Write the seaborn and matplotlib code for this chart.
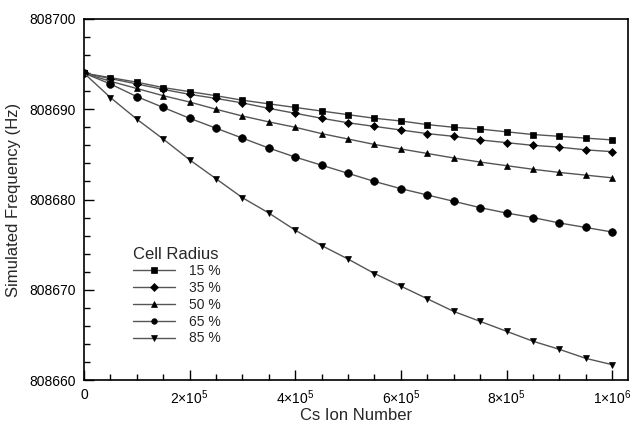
import numpy as np
import pandas as pd
import matplotlib
matplotlib.use("Agg")
import matplotlib.pyplot as plt
import seaborn as sns
from matplotlib.ticker import MultipleLocator, FixedLocator

# Cs ion number, every 5x10^4 from 0 to 1x10^6
ion_number = [i * 50000 for i in range(21)]

# simulated frequency (Hz), one list per cell radius
freq_15 = [808694.0, 808693.5, 808693.0, 808692.4, 808691.95, 808691.5, 808691.0,
           808690.6, 808690.2, 808689.8, 808689.4, 808689.0, 808688.7, 808688.3,
           808688.0, 808687.8, 808687.5, 808687.2, 808687.0, 808686.8, 808686.6]
freq_35 = [808694.0, 808693.4, 808692.8, 808692.2, 808691.65, 808691.2, 808690.7,
           808690.1, 808689.55, 808689.0, 808688.5, 808688.1, 808687.7, 808687.3,
           808687.0, 808686.6, 808686.3, 808686.0, 808685.8, 808685.5, 808685.3]
freq_50 = [808694.0, 808693.1, 808692.3, 808691.5, 808690.8, 808690.0, 808689.25,
           808688.6, 808688.0, 808687.3, 808686.7, 808686.1, 808685.6, 808685.1,
           808684.6, 808684.15, 808683.75, 808683.35, 808683.0, 808682.7, 808682.4]
freq_65 = [808694.0, 808692.8, 808691.4, 808690.2, 808689.0, 808687.9, 808686.8,
           808685.7, 808684.7, 808683.8, 808682.9, 808682.0, 808681.2, 808680.5,
           808679.8, 808679.1, 808678.5, 808678.0, 808677.4, 808676.9, 808676.4]
freq_85 = [808694.0, 808691.3, 808688.9, 808686.7, 808684.4, 808682.3, 808680.2,
           808678.5, 808676.6, 808674.9, 808673.4, 808671.8, 808670.4, 808669.0,
           808667.6, 808666.5, 808665.4, 808664.3, 808663.4, 808662.4, 808661.7]

radius_labels = ["15 %", "35 %", "50 %", "65 %", "85 %"]
series = [freq_15, freq_35, freq_50, freq_65, freq_85]

x_ticks = [0, 200000, 400000, 600000, 800000, 1000000]
x_tick_labels = ["0", r"$\mathregular{2{\times}10^5}$", r"$\mathregular{4{\times}10^5}$",
                 r"$\mathregular{6{\times}10^5}$", r"$\mathregular{8{\times}10^5}$",
                 r"$\mathregular{1{\times}10^6}$"]
y_ticks = [808660, 808670, 808680, 808690, 808700]

df = pd.concat([pd.DataFrame({"ions": ion_number, "freq": s, "radius": r})
                for s, r in zip(series, radius_labels)], ignore_index=True)

sns.set_style("ticks")
plt.rcParams["font.family"] = ["Liberation Sans", "DejaVu Sans"]
plt.rcParams["mathtext.fontset"] = "custom"
plt.rcParams["mathtext.rm"] = "Liberation Sans"

fig = plt.figure(figsize=(6.3, 4.22), dpi=100)
ax = fig.add_axes([0.1333, 0.0995, 0.8635, 0.8555])

markers = {"15 %": "s", "35 %": "D", "50 %": "^", "65 %": "o", "85 %": "v"}
sizes = {"15 %": 5, "35 %": 3.8, "50 %": 5, "65 %": 5.5, "85 %": 5}
palette = {r: "#555555" for r in radius_labels}

sns.lineplot(data=df, x="ions", y="freq", hue="radius", style="radius",
             markers=markers, dashes=False, palette=palette, legend=False,
             linewidth=1.0, markersize=5, markerfacecolor="black",
             markeredgecolor="black", markeredgewidth=0.5, ax=ax)
for line, r in zip(ax.lines, radius_labels):
    line.set_markersize(sizes[r])

ax.set_xlim(0, 1030000)
ax.set_ylim(808660, 808700)
ax.xaxis.set_major_locator(FixedLocator(x_ticks))
ax.set_xticklabels(x_tick_labels)
ax.xaxis.set_minor_locator(MultipleLocator(50000))
ax.yaxis.set_major_locator(FixedLocator(y_ticks))
ax.set_yticklabels([str(v) for v in y_ticks])
ax.yaxis.set_minor_locator(MultipleLocator(2))

ax.tick_params(which="both", direction="in", top=False, right=False,
               labelsize=10, colors="black", width=1.0)
ax.tick_params(which="major", length=7, pad=6)
ax.tick_params(which="minor", length=4)
for sp in ax.spines.values():
    sp.set_visible(True)
    sp.set_linewidth(1.2)
    sp.set_color("black")

ax.set_xlabel("Cs Ion Number", fontsize=12, labelpad=1)
ax.set_ylabel("Simulated Frequency (Hz)", fontsize=12, labelpad=6)

leg = ax.legend(ax.lines, radius_labels, title="Cell Radius", frameon=False,
                loc="upper left", bbox_to_anchor=(0.08, 0.385),
                fontsize=10, title_fontsize=12, handlelength=3.0,
                handletextpad=1.0, labelspacing=0.2, borderaxespad=0)
leg._legend_box.align = "left"
for h in leg.legend_handles:
    h.set_markersize(4)

fig.savefig("out.png", dpi=100)
